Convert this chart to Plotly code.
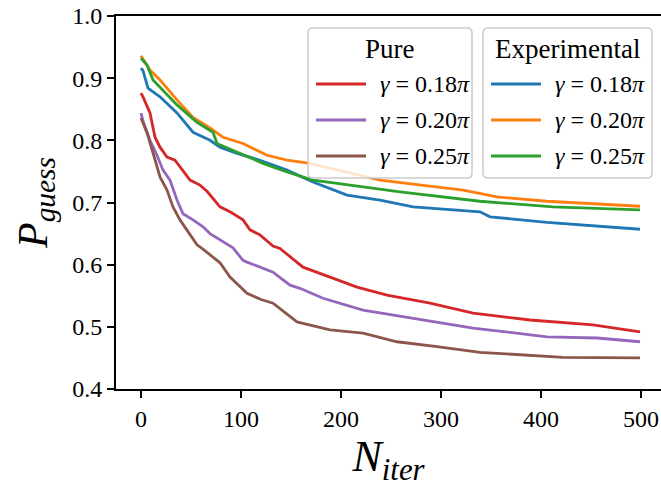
import plotly.graph_objects as go

# Best-so-far guessing probability vs. iteration count
n_pure_018 = [0, 2, 9, 14, 19, 26, 34, 39, 49, 59, 66, 79, 89, 102, 109, 119, 132, 139, 162, 189, 216, 246, 289, 332, 389, 452, 499]
p_pure_018 = [0.876, 0.870, 0.844, 0.805, 0.789, 0.773, 0.768, 0.757, 0.736, 0.728, 0.718, 0.693, 0.685, 0.672, 0.656, 0.648, 0.630, 0.626, 0.596, 0.580, 0.564, 0.551, 0.538, 0.522, 0.511, 0.503, 0.492]

n_pure_020 = [0, 2, 9, 16, 22, 29, 36, 42, 52, 62, 69, 82, 92, 102, 106, 132, 149, 159, 182, 222, 272, 332, 406, 456, 499]
p_pure_020 = [0.844, 0.831, 0.800, 0.776, 0.752, 0.736, 0.704, 0.682, 0.672, 0.661, 0.650, 0.637, 0.627, 0.607, 0.604, 0.588, 0.567, 0.562, 0.546, 0.527, 0.514, 0.498, 0.484, 0.482, 0.476]

n_pure_025 = [0, 6, 12, 19, 26, 32, 39, 46, 56, 62, 79, 89, 106, 120, 132, 156, 189, 222, 256, 296, 339, 422, 499]
p_pure_025 = [0.836, 0.812, 0.780, 0.741, 0.720, 0.693, 0.672, 0.656, 0.632, 0.625, 0.603, 0.580, 0.554, 0.544, 0.538, 0.508, 0.495, 0.490, 0.476, 0.468, 0.459, 0.451, 0.450]

n_exp_018 = [0, 2, 7, 19, 36, 52, 69, 79, 96, 119, 146, 172, 206, 239, 272, 339, 349, 406, 499]
p_exp_018 = [0.916, 0.912, 0.884, 0.870, 0.844, 0.813, 0.800, 0.789, 0.779, 0.768, 0.752, 0.733, 0.712, 0.704, 0.693, 0.685, 0.677, 0.668, 0.657]

n_exp_020 = [0, 9, 19, 36, 52, 69, 82, 102, 126, 146, 169, 206, 239, 322, 356, 406, 499]
p_exp_020 = [0.936, 0.913, 0.897, 0.865, 0.837, 0.820, 0.805, 0.795, 0.776, 0.768, 0.763, 0.749, 0.736, 0.720, 0.709, 0.702, 0.694]

n_exp_025 = [0, 6, 12, 36, 56, 72, 76, 96, 122, 146, 172, 222, 259, 339, 412, 499]
p_exp_025 = [0.932, 0.921, 0.897, 0.857, 0.829, 0.813, 0.795, 0.781, 0.763, 0.749, 0.736, 0.725, 0.717, 0.702, 0.693, 0.688]

x_ticks = [0, 100, 200, 300, 400, 500]
y_ticks = [0.4, 0.5, 0.6, 0.7, 0.8, 0.9, 1.0]

group_titles = ["Pure", "Experimental"]
gamma_labels = ["0.18", "0.20", "0.25"]

series = [
    (0, n_pure_018, p_pure_018, "#d62728", 0),
    (0, n_pure_020, p_pure_020, "#9467bd", 1),
    (0, n_pure_025, p_pure_025, "#8c564b", 2),
    (1, n_exp_018, p_exp_018, "#1f77b4", 0),
    (1, n_exp_020, p_exp_020, "#ff7f0e", 1),
    (1, n_exp_025, p_exp_025, "#2ca02c", 2),
]

FONT = "Liberation Serif"

# plot-area geometry in pixels (used to place the legend boxes)
W, H = 661, 487
ML, MT, MB = 116, 16, 98
PW, PH = W - ML, H - MT - MB


def px_x(px):
    return (px - ML) / PW


def px_y(py):
    return (H - MB - py) / PH


fig = go.Figure()
for grp, xs, ys, color, gi in series:
    fig.add_trace(go.Scatter(
        x=xs, y=ys, mode="lines",
        line=dict(color=color, width=2.8),
        name=f"{group_titles[grp]}: γ = {gamma_labels[gi]}π",
        showlegend=False,
    ))

# two framed legend boxes, one per group
boxes = [(308, 472), (483, 652)]
box_top, box_bot = 28, 178
row_y = [84, 120, 156]
shapes, annotations = [], []
r = 5
for gi_box, (bx0, bx1) in enumerate(boxes):
    x0, x1 = px_x(bx0), px_x(bx1)
    y0, y1 = px_y(box_bot), px_y(box_top)
    rx, ry = r / PW, r / PH
    path = (
        f"M {x0 + rx},{y1} L {x1 - rx},{y1} Q {x1},{y1} {x1},{y1 - ry} "
        f"L {x1},{y0 + ry} Q {x1},{y0} {x1 - rx},{y0} "
        f"L {x0 + rx},{y0} Q {x0},{y0} {x0},{y0 + ry} "
        f"L {x0},{y1 - ry} Q {x0},{y1} {x0 + rx},{y1} Z"
    )
    shapes.append(dict(
        type="path", path=path, xref="paper", yref="paper", layer="above",
        fillcolor="rgba(255,255,255,0.8)", line=dict(color="#cccccc", width=1.5),
    ))
    annotations.append(dict(
        text=group_titles[gi_box], xref="paper", yref="paper",
        x=px_x((bx0 + bx1) / 2), y=px_y(49), xanchor="center", yanchor="middle",
        showarrow=False, font=dict(family=FONT, size=27, color="black"),
    ))

for grp, xs, ys, color, gi in series:
    bx0 = boxes[grp][0]
    yy = px_y(row_y[gi])
    shapes.append(dict(
        type="line", xref="paper", yref="paper", layer="above",
        x0=px_x(bx0 + 8), x1=px_x(bx0 + 58), y0=yy, y1=yy,
        line=dict(color=color, width=3.2),
    ))
    annotations.append(dict(
        text=f"<i>γ</i> = {gamma_labels[gi]}<i>π</i>", xref="paper", yref="paper",
        x=px_x(bx0 + 70), y=yy, xanchor="left", yanchor="middle",
        showarrow=False, font=dict(family=FONT, size=24, color="black"),
    ))

fig.update_layout(
    width=W, height=H,
    margin=dict(l=ML, r=0, t=MT, b=MB),
    paper_bgcolor="white", plot_bgcolor="white",
    font=dict(family=FONT, size=24, color="black"),
    showlegend=False,
    shapes=shapes,
    annotations=annotations,
    xaxis=dict(
        range=[-25, 520],
        tickvals=x_ticks,
        ticks="outside", ticklen=7, tickwidth=2, tickcolor="black",
        showline=True, linecolor="black", linewidth=2, mirror=True,
        showgrid=False, zeroline=False,
        tickfont=dict(family=FONT, size=24),
        title=dict(text="<i>N<sub>iter</sub></i>", font=dict(family=FONT, size=44), standoff=8),
    ),
    yaxis=dict(
        range=[0.4, 1.0],
        tickvals=y_ticks,
        tickformat=".1f",
        ticks="outside", ticklen=7, tickwidth=2, tickcolor="black",
        showline=True, linecolor="black", linewidth=2, mirror=False,
        showgrid=False, zeroline=False,
        tickfont=dict(family=FONT, size=24),
        title=dict(text="<i>P<sub>guess</sub></i>", font=dict(family=FONT, size=42), standoff=12),
    ),
)

fig.write_html("out.html")
